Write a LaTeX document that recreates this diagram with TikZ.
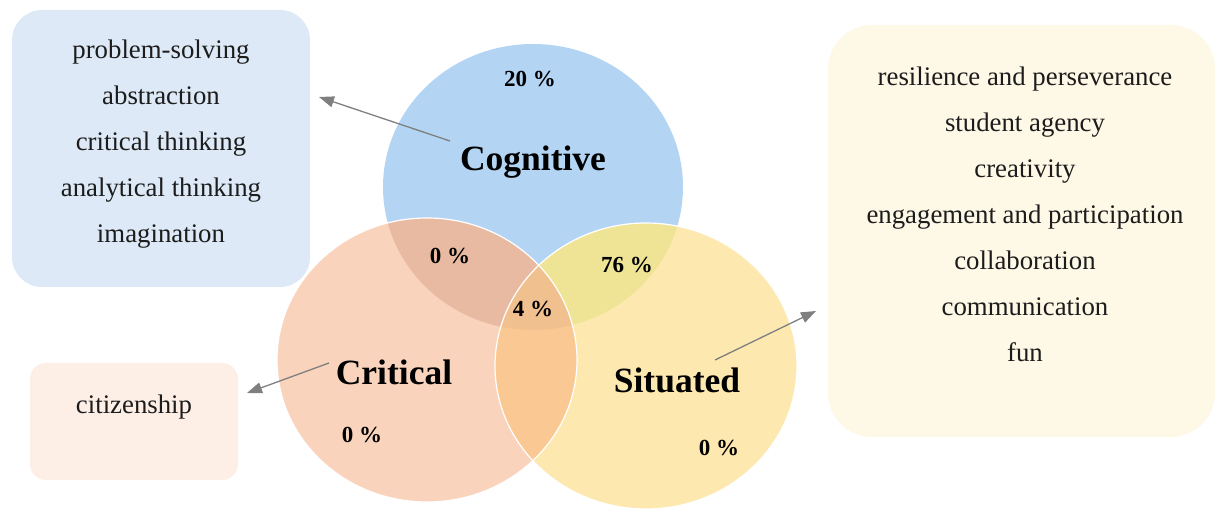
\documentclass[tikz,border=0pt]{standalone}
\usepackage{fontspec}
\setmainfont{Liberation Serif}
\usetikzlibrary{arrows.meta}

% palette
\definecolor{cogfill}{HTML}{B3D5F3}
\definecolor{critfill}{HTML}{F9D3BC}
\definecolor{sitfill}{HTML}{FDE9AF}
\definecolor{cogcrit}{HTML}{E8BAA1}
\definecolor{cogsit}{HTML}{EFE495}
\definecolor{critsit}{HTML}{FAC993}
\definecolor{allthree}{HTML}{F1C08F}
\definecolor{cogbg}{HTML}{DDE9F6}
\definecolor{critbg}{HTML}{FDEEE6}
\definecolor{sitbg}{HTML}{FEF8E6}
\definecolor{ink}{HTML}{1C1C1C}
\definecolor{pointergray}{HTML}{7F7F7F}

% the three sets of the diagram
\newcommand\cogpath{(533,187) ellipse [x radius=150pt, y radius=143pt]}
\newcommand\critpath{(427,360) ellipse [x radius=150pt, y radius=142pt]}
\newcommand\sitpath{(646,366) ellipse [x radius=151pt, y radius=143pt]}

\begin{document}
\begin{tikzpicture}[x=1pt,y=-1pt,
  itembox/.style={draw=none, inner sep=0pt},
  itemlist/.style={align=center, text=ink, font=\fontsize{26.8}{46}\selectfont},
  setlabel/.style={text=black, font=\fontsize{35.5}{40}\selectfont\bfseries},
  share/.style={text=black, font=\fontsize{23}{26}\selectfont\bfseries},
  pointer/.style={draw=pointergray, line width=1.3pt,
    -{Triangle[length=15pt,width=11pt,fill=pointergray]}}]

\useasboundingbox (0,0) rectangle (1219,510);

% side boxes
\node[itembox, fill=cogbg, rounded corners=30pt,
      minimum width=298pt, minimum height=277pt] (cogbox) at (161,148.5) {};
\node[itembox, fill=critbg, rounded corners=16pt,
      minimum width=208pt, minimum height=117pt] (critbox) at (134,421.5) {};
\node[itembox, fill=sitbg, rounded corners=44pt,
      minimum width=387pt, minimum height=412pt] (sitbox) at (1021.5,231) {};

\node[itemlist] (coglist) at (161,144) {problem-solving\\abstraction\\critical thinking\\analytical thinking\\imagination};
\node[itemlist] (critlist) at (134,407) {citizenship};
\node[itemlist] (sitlist) at (1025,214) {resilience and perseverance\\student agency\\creativity\\engagement and participation\\collaboration\\communication\\fun};

% set regions
\fill[cogfill] \cogpath;
\fill[critfill] \critpath;
\fill[sitfill] \sitpath;
\begin{scope}
  \clip \cogpath;
  \fill[cogcrit] \critpath;
  \fill[cogsit] \sitpath;
\end{scope}
\begin{scope}
  \clip \critpath;
  \fill[critsit] \sitpath;
  \clip \sitpath;
  \fill[allthree] \cogpath;
\end{scope}
\draw[white, line width=1.2pt] \critpath;
\draw[white, line width=1.2pt] \sitpath;

% set names and shares
\node[setlabel] (coglabel) at (533,162) {Cognitive};
\node[setlabel] (critlabel) at (394,372) {Critical};
\node[setlabel] (sitlabel) at (677,380) {Situated};

\node[share] (cogonly) at (530,79) {20 \%};
\node[share] (cogcritshare) at (450,256) {0 \%};
\node[share] (cogsitshare) at (627,265) {76 \%};
\node[share] (centreshare) at (533,309) {4 \%};
\node[share] (critonly) at (362,435) {0 \%};
\node[share] (sitonly) at (719,448) {0 \%};

% pointers from each set to its list
\coordinate (cogtail) at (450,141);
\coordinate (cogtip) at (319,97);
\coordinate (crittail) at (329,363);
\coordinate (crittip) at (247,393);
\coordinate (sittail) at (715,360);
\coordinate (sittip) at (816,311);
\draw[pointer] (cogtail) -- (cogtip);
\draw[pointer] (crittail) -- (crittip);
\draw[pointer] (sittail) -- (sittip);
\end{tikzpicture}
\end{document}
